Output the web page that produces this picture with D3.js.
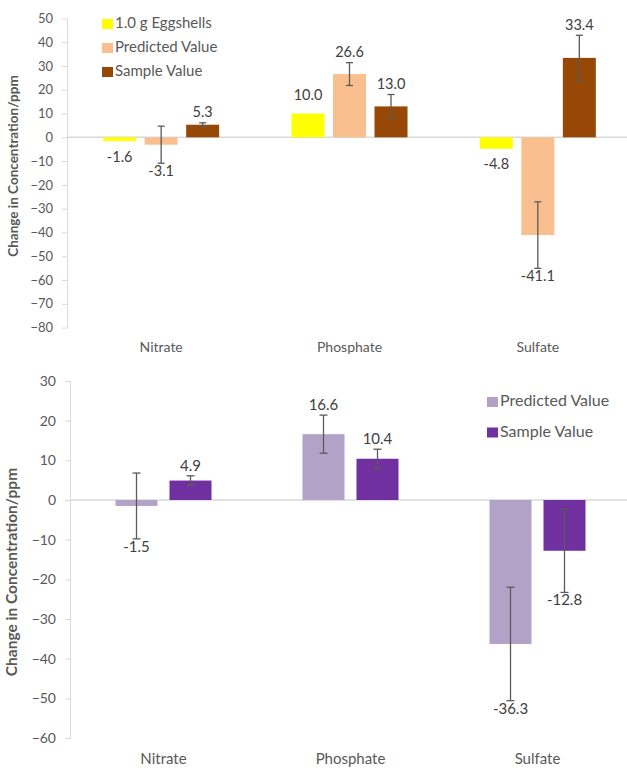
<!DOCTYPE html>
<html>
<head>
<meta charset="utf-8">
<script src="https://cdn.jsdelivr.net/npm/d3@7"></script>
<style>
  body { margin: 0; background: #fff; }
  svg { display: block; font-family: Lato, "Open Sans", sans-serif; }
</style>
</head>
<body>
<div id="chart"></div>
<script>
// Categories shared by both charts
const categories = ["Nitrate", "Phosphate", "Sulfate"];

// Top chart (eggshells)
const topSeries = ["1.0 g Eggshells", "Predicted Value", "Sample Value"];
const topEggshells = [-1.6, 10.0, -4.8];
const topPredicted = [-3.1, 26.6, -41.1];
const topSample = [5.3, 13.0, 33.4];
const topPredictedErr = [7.8, 4.8, 14.0];
const topSampleErr = [0.8, 5.0, 9.5];
const topTicks = [50, 40, 30, 20, 10, 0, -10, -20, -30, -40, -50, -60, -70, -80];

// Bottom chart
const bottomSeries = ["Predicted Value", "Sample Value"];
const bottomPredicted = [-1.5, 16.6, -36.3];
const bottomSample = [4.9, 10.4, -12.8];
const bottomPredictedErr = [8.3, 4.8, 14.3];
const bottomSampleErr = [1.2, 2.4, 10.5];
const bottomTicks = [30, 20, 10, 0, -10, -20, -30, -40, -50, -60];

const width = 627;
const height = 771;

const svg = d3.select("#chart")
    .append("svg")
    .attr("width", width)
    .attr("height", height);

function drawChart(opt) {
    const g = svg.append("g");

    const y = d3.scaleLinear()
        .domain(opt.yDomain)
        .range([opt.yBottom, opt.yTop]);

    const x = d3.scaleBand()
        .domain(categories)
        .range([opt.xLeft, opt.xRight]);

    const xs = d3.scaleBand()
        .domain(opt.series.map((s, i) => i))
        .range([-opt.groupWidth / 2, opt.groupWidth / 2])
        .paddingInner(opt.innerPad);

    // Y axis
    const yAxis = g.append("g")
        .attr("transform", `translate(${opt.xLeft},0)`)
        .call(d3.axisLeft(y).tickValues(opt.ticks).tickSize(5).tickPadding(9).tickSizeOuter(0));
    yAxis.select(".domain").attr("stroke", "#d9d9d9");
    yAxis.selectAll(".tick line").attr("stroke", "#d9d9d9");
    yAxis.selectAll(".tick text")
        .attr("fill", "#595959")
        .attr("font-size", opt.tickFont + "px")
        .attr("font-family", "Lato, sans-serif");

    // Zero line
    g.append("line")
        .attr("x1", opt.xLeft)
        .attr("x2", width)
        .attr("y1", y(0))
        .attr("y2", y(0))
        .attr("stroke", "#d9d9d9")
        .attr("stroke-width", 1.5);

    // Category labels
    g.selectAll(".cat")
        .data(categories)
        .enter()
        .append("text")
        .attr("x", d => x(d) + x.bandwidth() / 2)
        .attr("y", opt.catY)
        .attr("text-anchor", "middle")
        .attr("dominant-baseline", "middle")
        .attr("font-size", opt.catFont + "px")
        .attr("fill", "#595959")
        .text(d => d);

    // Bars, error bars and value labels
    opt.series.forEach((s, si) => {
        const vals = opt.values[si];
        const errs = opt.errors[si];
        const rows = categories.map((c, ci) => ({ c: c, v: vals[ci], e: errs ? errs[ci] : 0 }));

        g.selectAll(".bar" + si)
            .data(rows)
            .enter()
            .append("rect")
            .attr("x", d => x(d.c) + x.bandwidth() / 2 + xs(si))
            .attr("y", d => y(Math.max(0, d.v)))
            .attr("width", xs.bandwidth())
            .attr("height", d => Math.abs(y(d.v) - y(0)))
            .attr("fill", opt.colors[si]);

        const cx = d => x(d.c) + x.bandwidth() / 2 + xs(si) + xs.bandwidth() / 2;

        const withErr = rows.filter(d => d.e > 0);
        const eb = g.selectAll(".err" + si)
            .data(withErr)
            .enter()
            .append("g")
            .attr("stroke", "#5a5a5a")
            .attr("stroke-width", 1.3);
        eb.append("line")
            .attr("x1", cx).attr("x2", cx)
            .attr("y1", d => y(d.v + d.e))
            .attr("y2", d => y(d.v - d.e));
        eb.append("line")
            .attr("x1", d => cx(d) - opt.cap).attr("x2", d => cx(d) + opt.cap)
            .attr("y1", d => y(d.v + d.e)).attr("y2", d => y(d.v + d.e));
        eb.append("line")
            .attr("x1", d => cx(d) - opt.cap).attr("x2", d => cx(d) + opt.cap)
            .attr("y1", d => y(d.v - d.e)).attr("y2", d => y(d.v - d.e));

        g.selectAll(".lbl" + si)
            .data(rows)
            .enter()
            .append("text")
            .attr("x", cx)
            .attr("y", d => {
                const sign = d.v >= 0 ? 1 : -1;
                const end = d.e > 0 ? y(d.v + sign * d.e) : y(d.v);
                const off = d.e > 0 ? 9 : 17;
                return end - sign * off;
            })
            .attr("text-anchor", "middle")
            .attr("dominant-baseline", "middle")
            .attr("font-size", opt.labelFont + "px")
            .attr("fill", "#404040")
            .text(d => d.v.toFixed(1));
    });

    // Legend
    const legend = g.append("g")
        .attr("transform", `translate(${opt.legendX},${opt.legendY})`);
    opt.series.forEach((s, si) => {
        legend.append("rect")
            .attr("x", 0)
            .attr("y", si * opt.legendStep - 5)
            .attr("width", 11)
            .attr("height", 10)
            .attr("fill", opt.colors[si]);
        legend.append("text")
            .attr("x", 13)
            .attr("y", si * opt.legendStep)
            .attr("dominant-baseline", "middle")
            .attr("font-size", opt.legendFont + "px")
            .attr("fill", "#595959")
            .text(s);
    });

    // Y axis title
    g.append("text")
        .attr("transform", `translate(${opt.titleX},${opt.titleY}) rotate(-90)`)
        .attr("text-anchor", "middle")
        .attr("dominant-baseline", "middle")
        .attr("font-size", opt.titleFont + "px")
        .attr("font-weight", "bold")
        .attr("fill", "#595959")
        .text("Change in Concentration/ppm");
}

drawChart({
    series: topSeries,
    values: [topEggshells, topPredicted, topSample],
    errors: [null, topPredictedErr, topSampleErr],
    colors: ["#ffff00", "#fabf8f", "#974806"],
    yDomain: [-80, 50],
    yTop: 18.4,
    yBottom: 327.6,
    ticks: topTicks,
    xLeft: 67,
    xRight: 632,
    groupWidth: 116,
    innerPad: 0.205,
    cap: 3.5,
    catY: 348,
    tickFont: 13,
    catFont: 14,
    labelFont: 14.5,
    legendX: 102,
    legendY: 24,
    legendStep: 24,
    legendFont: 15,
    titleX: 15,
    titleY: 166,
    titleFont: 13.5
});

drawChart({
    series: bottomSeries,
    values: [bottomPredicted, bottomSample],
    errors: [bottomPredictedErr, bottomSampleErr],
    colors: ["#b3a2c7", "#7030a0"],
    yDomain: [-60, 30],
    yTop: 381,
    yBottom: 738,
    ticks: bottomTicks,
    xLeft: 70,
    xRight: 631,
    groupWidth: 96,
    innerPad: 0.222,
    cap: 4,
    catY: 760,
    tickFont: 14,
    catFont: 15,
    labelFont: 15,
    legendX: 487,
    legendY: 402,
    legendStep: 30.5,
    legendFont: 16,
    titleX: 13,
    titleY: 572,
    titleFont: 15.5
});
</script>
</body>
</html>
